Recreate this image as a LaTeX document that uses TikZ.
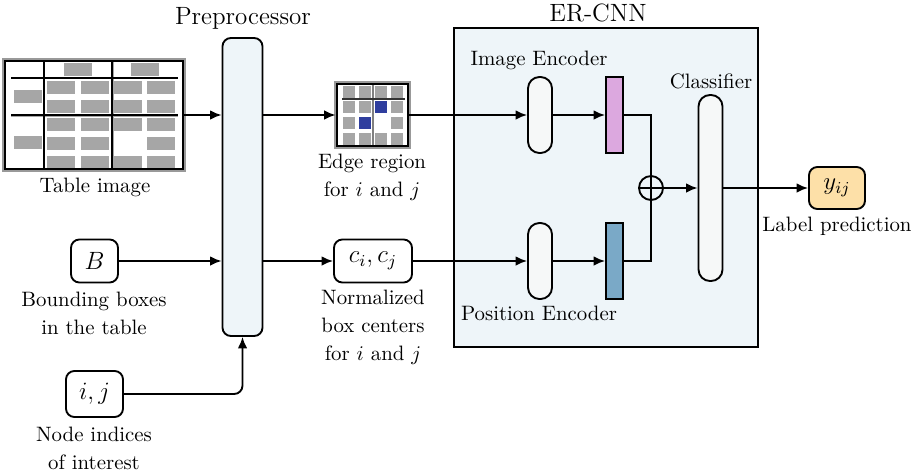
\documentclass[tikz,border=0pt]{standalone}
\usepackage{tikz}
\usetikzlibrary{arrows.meta}

\definecolor{cellgray}{HTML}{A6A6A6}
\definecolor{cellblue}{HTML}{2F3E9E}
\definecolor{panelblue}{HTML}{EEF5F9}
\definecolor{pillgray}{HTML}{F6F8F8}
\definecolor{featpink}{HTML}{DCA8DF}
\definecolor{featblue}{HTML}{7AA9C7}
\definecolor{outyellow}{HTML}{FDE0A8}

\newcommand{\unitpx}{0.48pt}

\tikzset{
	flow/.style={-{Latex[length=5.5pt,width=4.6pt]}, line width=0.9pt},
	inbox/.style={draw, line width=0.9pt, rounded corners=4pt, fill=white, inner sep=0pt},
	pill/.style={draw, line width=0.9pt, rounded corners=5.5pt, fill=pillgray, minimum width={24*\unitpx}, inner sep=0pt},
	featbar/.style={draw, line width=0.9pt, minimum width={17*\unitpx}, minimum height={76*\unitpx}, inner sep=0pt},
	caption/.style={align=center, inner sep=0pt},
}

\begin{document}
\begin{tikzpicture}[x=\unitpx,y=-\unitpx]
\useasboundingbox (0,0) rectangle (916,473);

%ER-CNN panel
\node (ercnn) [draw, line width=0.9pt, fill=panelblue, minimum width={304*\unitpx}, minimum height={319*\unitpx}] at (606,187.5) {};
\node (ercnnlab) at (598,13) {\large ER-CNN};

%preprocessor
\node (pre) [draw, line width=0.9pt, rounded corners=4pt, fill=panelblue, minimum width={40*\unitpx}, minimum height={298*\unitpx}] at (242.5,187) {};
\node (prelab) at (243,18) {\large Preprocessor};

%table image
\node (tab) [minimum width={180*\unitpx}, minimum height={110*\unitpx}, inner sep=0pt] at (94,115) {};
\fill[cellgray] (64,63) rectangle ++(28,13);
\fill[cellgray] (131,63) rectangle ++(28,13);
\foreach \x in {47,81,147}
{
	\foreach \y in {81,100,118,137,156}
		\fill[cellgray] (\x,\y) rectangle ++(28,13);
}
\foreach \y in {81,100,118,156}
	\fill[cellgray] (114,\y) rectangle ++(28,13);
\fill[cellgray] (14,90) rectangle ++(28,13);
\fill[cellgray] (14,136) rectangle ++(28,13);
\draw[gray!70, line width=0.6pt] (11,116.5) -- (178,116.5);
\draw[gray!70, line width=0.6pt] (113.5,61) -- (113.5,169);
\draw[black, line width=0.6pt] (11,78) -- (178,78);
\draw[black, line width=0.6pt] (11,115) -- (178,115);
\draw[black, line width=0.6pt] (44,61) -- (44,169);
\draw[black, line width=0.6pt] (112,61) -- (112,169);
\draw[gray!80, line width=1.2pt] (tab.south west) rectangle (tab.north east);
\draw[black, line width=0.9pt] ([xshift=0.8pt,yshift=0.8pt]tab.south west) rectangle ([xshift=-0.8pt,yshift=-0.8pt]tab.north east);
\node (tablab) at (95,187) {Table image};

%edge region
\node (edge) [minimum width={73*\unitpx}, minimum height={64*\unitpx}, inner sep=0pt] at (372.5,115) {};
\foreach \x in {343,359,375,391}
{
	\foreach \y in {86,101,117,133}
		\fill[cellgray] (\x,\y) rectangle ++(12,12);
}
\fill[white] (375,117) rectangle ++(12,12);
\fill[cellblue] (375,101) rectangle ++(12,12);
\fill[cellblue] (359,117) rectangle ++(12,12);
\draw[gray, line width=0.8pt] (373,85) -- (373,146);
\draw[black!80, line width=0.6pt] (342,99) -- (405,99);
\draw[gray!80, line width=1.2pt] (edge.south west) rectangle (edge.north east);
\draw[black, line width=1pt] ([xshift=0.6pt,yshift=0.6pt]edge.south west) rectangle ([xshift=-0.6pt,yshift=-0.6pt]edge.north east);
\node (edgelab) [caption] at (372,177) {Edge region\\[1.4pt] for $i$ and $j$};

%inputs
\node (bbox) [inbox, minimum width={47*\unitpx}, minimum height={43*\unitpx}] at (94.5,261) {\large $B$};
\node (bboxlab) [caption] at (94,313) {Bounding boxes\\[1.4pt] in the table};
\node (ij) [inbox, minimum width={57*\unitpx}, minimum height={46*\unitpx}] at (94.5,394) {\large $i,j$};
\node (ijlab) [caption] at (94,448) {Node indices\\[1.4pt] of interest};
\node (cc) [inbox, minimum width={78*\unitpx}, minimum height={43*\unitpx}] at (373,261) {\large $c_i,c_j$};
\node (cclab) [caption] at (373,327) {Normalized\\[1.4pt] box centers\\[1.4pt] for $i$ and $j$};

%encoders
\node (imgenc) [pill, minimum height={76*\unitpx}] at (540,115) {};
\node (imgenclab) at (539,60) {Image Encoder};
\node (posenc) [pill, minimum height={76*\unitpx}] at (540,261) {};
\node (posenclab) at (539,313) {Position Encoder};
\node (imgfeat) [featbar, fill=featpink] at (614.5,115) {};
\node (posfeat) [featbar, fill=featblue] at (614.5,261) {};
\node (sum) [draw, circle, line width=0.9pt, minimum size={24*\unitpx}, inner sep=0pt] at (651,188) {};
\draw[line width=0.9pt] (sum.west) -- (sum.east);
\node (cls) [pill, minimum height={186*\unitpx}] at (710.5,188) {};
\node (clslab) at (711,81) {Classifier};

%output
\node (yij) [inbox, fill=outyellow, minimum width={56*\unitpx}, minimum height={42*\unitpx}] at (837,188) {\large $y_{ij}$};
\node (yijlab) at (837,226) {Label prediction};

%connectors
\draw[flow] (tab.east) -- (tab.east -| pre.west);
\draw[flow] (bbox.east) -- (bbox.east -| pre.west);
\draw[flow, rounded corners=4pt] (ij.east) -| (pre.south);
\draw[flow] (pre.east |- edge.west) -- (edge.west);
\draw[flow] (pre.east |- cc.west) -- (cc.west);
\draw[flow] (edge.east) -- (imgenc.west);
\draw[flow] (cc.east) -- (posenc.west);
\draw[flow] (imgenc.east) -- (imgfeat.west);
\draw[flow] (posenc.east) -- (posfeat.west);
\draw[line width=0.9pt] (imgfeat.east) -| (sum.north) -- (sum.south);
\draw[line width=0.9pt] (posfeat.east) -| (sum.south);
\draw[flow] (sum.east) -- (cls.west);
\draw[flow] (cls.east) -- (yij.west);

\end{tikzpicture}
\end{document}
